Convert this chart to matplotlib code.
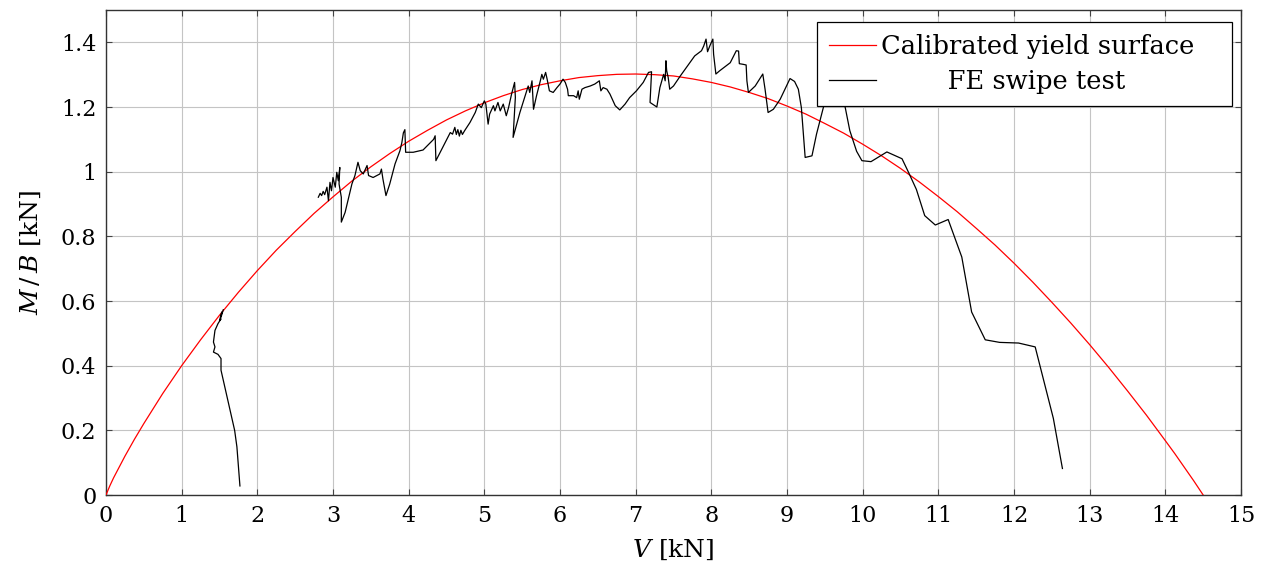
import numpy as np
import matplotlib
matplotlib.use("Agg")
import matplotlib.pyplot as plt
from matplotlib.font_manager import FontProperties
from matplotlib.lines import Line2D

# ---------------- data ----------------
# Calibrated yield surface
yield_V = [0.0, 0.05, 0.1, 0.25, 0.375, 0.5, 0.75, 1.0, 1.25, 1.5, 1.75, 2.0, 2.25, 2.5,
           2.75, 3.0, 3.25, 3.5, 3.75, 4.0, 4.25, 4.5, 4.75, 5.0, 5.25, 5.5, 5.75, 6.0,
           6.25, 6.5, 6.75, 7.0, 7.25, 7.5, 7.75, 8.0, 8.25, 8.5, 8.75, 9.0, 9.25, 9.5,
           9.75, 10.0, 10.25, 10.5, 10.75, 11.0, 11.25, 11.5, 11.75, 12.0, 12.25, 12.5,
           12.75, 13.0, 13.25, 13.5, 13.75, 14.0, 14.125, 14.25, 14.375, 14.5]
yield_M = [0.0, 0.028, 0.053, 0.120, 0.172, 0.221, 0.314, 0.400, 0.480, 0.556, 0.627,
           0.694, 0.757, 0.815, 0.871, 0.922, 0.971, 1.015, 1.056, 1.094, 1.128, 1.160,
           1.188, 1.213, 1.235, 1.254, 1.269, 1.281, 1.291, 1.297, 1.301, 1.302, 1.300,
           1.296, 1.287, 1.276, 1.262, 1.245, 1.226, 1.203, 1.178, 1.149, 1.119, 1.085,
           1.049, 1.010, 0.968, 0.923, 0.876, 0.825, 0.773, 0.717, 0.658, 0.596, 0.532,
           0.465, 0.395, 0.322, 0.247, 0.168, 0.128, 0.086, 0.044, 0.0]

# FE swipe test, part 1 (low V)
fe1_V = [1.77, 1.73, 1.70, 1.64, 1.57, 1.52, 1.52, 1.48, 1.42, 1.44, 1.42, 1.44,
         1.48, 1.52, 1.50, 1.53, 1.52, 1.55]
fe1_M = [0.028, 0.149, 0.200, 0.262, 0.334, 0.386, 0.422, 0.435, 0.442, 0.458, 0.473,
         0.509, 0.530, 0.545, 0.540, 0.566, 0.550, 0.573]

# FE swipe test, part 2
fe2_V = [2.806, 2.83, 2.85, 2.87, 2.89, 2.92, 2.94, 2.96, 2.98, 3.00, 3.03, 3.05, 3.07,
         3.09, 3.08, 3.11, 3.11, 3.16, 3.25, 3.29, 3.33, 3.36, 3.40, 3.45, 3.47, 3.53,
         3.62, 3.64, 3.66, 3.70, 3.75, 3.82, 3.885, 3.91, 3.93, 3.95, 3.96, 4.06, 4.19,
         4.33, 4.35, 4.36, 4.46, 4.55, 4.58, 4.61, 4.63, 4.65, 4.67, 4.69, 4.71, 4.74,
         4.81, 4.88, 4.92, 4.96, 5.00, 5.02, 5.05, 5.07, 5.12, 5.14, 5.18, 5.21, 5.25,
         5.29, 5.32, 5.36, 5.40, 5.41, 5.38, 5.47, 5.54, 5.58, 5.60, 5.63, 5.65, 5.69,
         5.74, 5.76, 5.78, 5.81, 5.83, 5.86, 5.91, 5.96, 6.00, 6.04, 6.07, 6.10, 6.11,
         6.18, 6.22, 6.24, 6.255, 6.29, 6.33, 6.40, 6.46, 6.52, 6.54, 6.57, 6.62, 6.66,
         6.73, 6.79, 6.86, 6.92, 7.01, 7.10, 7.17, 7.21, 7.19, 7.28, 7.32, 7.37, 7.39,
         7.40, 7.41, 7.43, 7.45, 7.50, 7.59, 7.70, 7.78, 7.87, 7.90, 7.93, 7.95, 7.98,
         8.02, 8.03, 8.06, 8.11, 8.25, 8.33, 8.36, 8.37, 8.42, 8.46, 8.47, 8.49, 8.58,
         8.68, 8.71, 8.75, 8.82, 8.91, 9.04, 9.10, 9.15, 9.19, 9.24, 9.33, 9.39, 9.48,
         9.62, 9.77, 9.83, 9.92, 9.99, 10.11, 10.32, 10.52, 10.61, 10.71, 10.82, 10.96,
         11.13, 11.31, 11.44, 11.62, 11.81, 12.06, 12.28, 12.52, 12.64]
fe2_M = [0.921, 0.933, 0.926, 0.939, 0.929, 0.952, 0.910, 0.967, 0.941, 0.982, 0.952,
         0.998, 0.972, 1.013, 0.962, 0.921, 0.844, 0.874, 0.962, 0.988, 1.029, 1.003,
         0.993, 1.019, 0.988, 0.982, 0.993, 1.008, 0.977, 0.926, 0.962, 1.024, 1.065,
         1.090, 1.120, 1.130, 1.060, 1.060, 1.067, 1.100, 1.111, 1.034, 1.080, 1.121,
         1.116, 1.137, 1.115, 1.130, 1.110, 1.128, 1.115, 1.127, 1.152, 1.183, 1.209,
         1.198, 1.219, 1.209, 1.147, 1.178, 1.204, 1.188, 1.214, 1.188, 1.209, 1.173,
         1.198, 1.240, 1.276, 1.230, 1.106, 1.183, 1.235, 1.265, 1.245, 1.281, 1.193,
         1.235, 1.281, 1.301, 1.286, 1.307, 1.286, 1.250, 1.245, 1.260, 1.271, 1.286,
         1.276, 1.255, 1.235, 1.235, 1.229, 1.250, 1.224, 1.255, 1.260, 1.265, 1.271,
         1.281, 1.250, 1.260, 1.255, 1.240, 1.204, 1.191, 1.209, 1.229, 1.250, 1.276,
         1.307, 1.309, 1.214, 1.200, 1.260, 1.301, 1.281, 1.343, 1.312, 1.291, 1.255,
         1.265, 1.296, 1.332, 1.358, 1.374, 1.389, 1.410, 1.371, 1.389, 1.410, 1.363,
         1.302, 1.312, 1.337, 1.374, 1.373, 1.334, 1.332, 1.330, 1.281, 1.245, 1.265,
         1.302, 1.255, 1.183, 1.193, 1.224, 1.288, 1.279, 1.255, 1.198, 1.044, 1.049,
         1.116, 1.198, 1.330, 1.198, 1.127, 1.063, 1.034, 1.031, 1.061, 1.040, 0.996,
         0.945, 0.864, 0.835, 0.852, 0.736, 0.566, 0.480, 0.472, 0.470, 0.458, 0.237,
         0.082]

x_ticks = list(range(0, 16))
y_ticks = [0, 0.2, 0.4, 0.6, 0.8, 1.0, 1.2, 1.4]
y_tick_labels = ["0", "0.2", "0.4", "0.6", "0.8", "1", "1.2", "1.4"]
legend_labels = ["Calibrated yield surface", "FE swipe test"]

# ---------------- style ----------------
plt.rcParams['font.family'] = ['DejaVu Serif']
plt.rcParams['mathtext.fontset'] = 'dejavuserif'
FS_TICK = 16
FS_LABEL = 18
FS_LEG = 18.5

W, H = 1265, 571
fig = plt.figure(figsize=(W / 100, H / 100), dpi=100)
ax = fig.add_axes([106 / W, 1 - 495 / H, (1241 - 106) / W, (495 - 10) / H])

ax.plot(yield_V, yield_M, color='red', lw=0.9, zorder=3)
fe_V = fe1_V + [np.nan] + fe2_V
fe_M = fe1_M + [np.nan] + fe2_M
ax.plot(fe_V, fe_M, color='black', lw=0.9, zorder=3)

ax.set_xlim(0, 15)
ax.set_ylim(0, 1.5)
ax.set_xticks(x_ticks)
ax.set_xticklabels([str(t) for t in x_ticks])
ax.set_yticks(y_ticks)
ax.set_yticklabels(y_tick_labels)
ax.grid(True, color='#c4c4c4', lw=0.8)
ax.set_axisbelow(True)
ax.tick_params(direction='in', length=4, width=0.8, color='#444444',
               labelsize=FS_TICK, top=True, right=True, pad=7)
for s in ax.spines.values():
    s.set_color('#333333')
    s.set_linewidth(1.0)

ax.set_xlabel(r'$V$ [kN]', fontsize=FS_LABEL)
ax.set_ylabel(r'$M\,/\,B$ [kN]', fontsize=FS_LABEL)
ax.xaxis.set_label_coords(0.5, (495 - 538) / 485)
ax.yaxis.set_label_coords((43 - 106) / 1135, 0.5)

# legend: text column centred, extra room on the right as in the original
renderer = fig.canvas.get_renderer()
fp = FontProperties(family='DejaVu Serif', size=FS_LEG)
def tw(s):
    return renderer.get_text_width_height_descent(s, fp, ismath=False)[0]
w_long = tw(legend_labels[0])
w_short = tw(legend_labels[1])
w_sp = tw("a\u2009a") - tw("aa")
n_sp = int(round((w_long - w_short) / 2 / w_sp)) if w_sp > 0 else 0
n_trail = int(round(24 / w_sp)) if w_sp > 0 else 0
lab1 = legend_labels[0] + "\u2009" * n_trail
lab2 = "\u2009" * n_sp + legend_labels[1]

handles = [Line2D([], [], color='red', lw=0.9), Line2D([], [], color='black', lw=0.9)]
leg = ax.legend(handles, [lab1, lab2], loc='upper right',
                bbox_to_anchor=((1232 - 106) / 1135, (495 - 22) / 485),
                borderaxespad=0, fontsize=FS_LEG,
                fancybox=False, framealpha=1, edgecolor='black',
                handlelength=1.85, handletextpad=0.2, borderpad=0.45,
                labelspacing=0.42)
leg.get_frame().set_linewidth(0.9)
leg.set_zorder(10)

fig.savefig('out.png', dpi=100)
